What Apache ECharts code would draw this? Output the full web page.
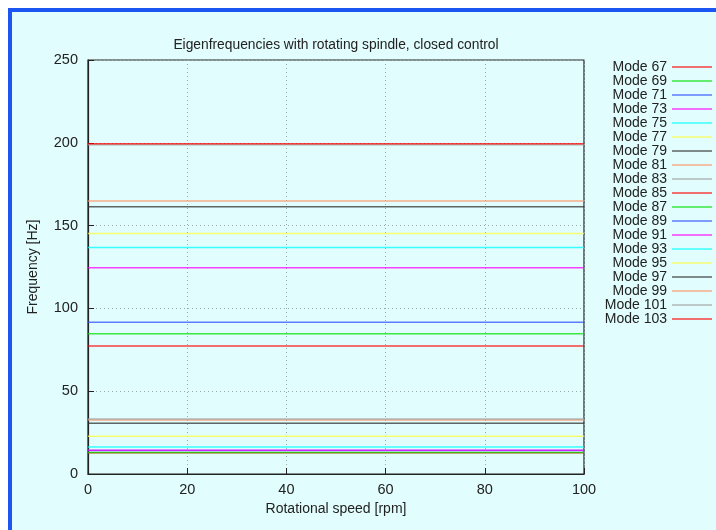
<!DOCTYPE html>
<html>
<head>
<meta charset="utf-8">
<script src="https://cdn.jsdelivr.net/npm/echarts@6/dist/echarts.min.js"></script>
<style>
  html, body { margin: 0; padding: 0; background: #ffffff; }
  #frame {
    position: absolute; left: 8px; top: 8px; right: 0; bottom: 0;
    background: #e2fdfd;
    border-top: 4px solid #1b55f2;
    border-left: 4px solid #1b55f2;
  }
  #chart { position: absolute; left: 0; top: 0; width: 716px; height: 530px; }
</style>
</head>
<body>
<div id="frame"></div>
<div id="chart"></div>
<script>
// rotational speed samples (rpm)
const speeds = [0, 100]

const modeNames = [
  'Mode 67', 'Mode 69', 'Mode 71', 'Mode 73', 'Mode 75', 'Mode 77', 'Mode 79',
  'Mode 81', 'Mode 83', 'Mode 85', 'Mode 87', 'Mode 89', 'Mode 91', 'Mode 93',
  'Mode 95', 'Mode 97', 'Mode 99', 'Mode 101', 'Mode 103'
]

// eigenfrequency of each mode (Hz), constant over speed
const modeFreqs = [
  12.9, 13.0, 14.2, 14.4, 16.3, 22.8, 30.6,
  32.6, 33.2, 77.3, 84.7, 91.6, 124.6, 136.7,
  145.3, 161.4, 164.9, 198.8, 199.4
]

// gnuplot line colour cycle
const lineColors = [
  '#ff0000', '#00e000', '#3050ff', '#ff00ff', '#00ffff', '#ffff40',
  '#303030', '#ff9060', '#a0a0a0'
]

const xTicks = [0, 20, 40, 60, 80, 100]
const yTicks = [0, 50, 100, 150, 200, 250]

const font = 'Liberation Sans, Arial, sans-serif'

// thin line inside a 40x12 box (tiny corner dots keep the box size)
const legendLine = 'path://M0,5.3L40,5.3L40,6.7L0,6.7Z M0,0L0.01,0L0.01,0.01Z M39.99,11.99L40,11.99L40,12Z'

const chart = echarts.init(document.getElementById('chart'))

const series = modeNames.map((name, i) => ({
  name,
  type: 'line',
  symbol: 'none',
  silent: true,
  animation: false,
  data: speeds.map(s => [s, modeFreqs[i]]),
  lineStyle: { width: 1.5, color: lineColors[i % lineColors.length], opacity: 0.75 },
  itemStyle: { color: lineColors[i % lineColors.length], opacity: 0.75 }
}))

const axisCommon = {
  axisLine: { show: true, onZero: false, lineStyle: { color: '#222', width: 1.2 } },
  axisTick: { show: true, inside: true, length: 6, lineStyle: { color: '#222' } },
  axisLabel: { color: '#222', fontFamily: font, fontSize: 14.5 },
  splitLine: { show: true, lineStyle: { color: '#9aa', type: [1, 3], width: 1 } },
  nameTextStyle: { color: '#222', fontFamily: font, fontSize: 14 }
}

chart.setOption({
  animation: false,
  title: {
    text: 'Eigenfrequencies with rotating spindle, closed control',
    left: 331, top: 33, textAlign: 'center',
    textStyle: { color: '#222', fontFamily: font, fontSize: 13.8, fontWeight: 'normal' }
  },
  grid: { left: 88, right: 132, top: 60, bottom: 56, show: true, borderColor: '#222', borderWidth: 1.2, backgroundColor: 'transparent' },
  legend: {
    orient: 'vertical', right: 4, top: 60, align: 'right', padding: 0,
    icon: legendLine,
    itemWidth: 40, itemHeight: 12, itemGap: 0,
    textStyle: { color: '#222', fontFamily: font, fontSize: 14 },
    data: modeNames
  },
  xAxis: Object.assign({}, axisCommon, {
    type: 'value', min: xTicks[0], max: xTicks[xTicks.length - 1], interval: 20,
    name: 'Rotational speed [rpm]', nameLocation: 'middle', nameGap: 28,
    axisLabel: Object.assign({}, axisCommon.axisLabel, { margin: 8 })
  }),
  yAxis: Object.assign({}, axisCommon, {
    type: 'value', min: yTicks[0], max: yTicks[yTicks.length - 1], interval: 50,
    name: 'Frequency [Hz]', nameLocation: 'middle', nameGap: 48, nameRotate: 90,
    axisLabel: Object.assign({}, axisCommon.axisLabel, { margin: 10 })
  }),
  series
})
</script>
</body>
</html>
